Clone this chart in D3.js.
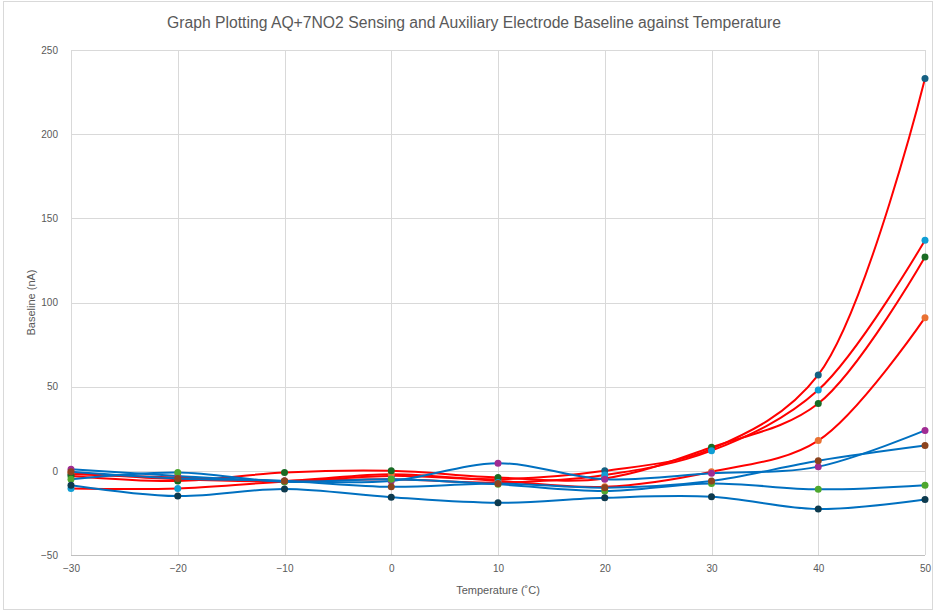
<!DOCTYPE html>
<html>
<head>
<meta charset="UTF-8">
<title>AQ+7NO2 baseline against temperature</title>
<style>
    body { margin: 0; padding: 0; background: #fff; }
    svg { display: block; }
    text { fill: #595959; font-family: "Liberation Sans Narrow", "Arial Narrow", "Liberation Sans", sans-serif; }
</style>
</head>
<body>
<svg width="935" height="613"></svg>
<script src="https://d3js.org/d3.v7.min.js"></script>
<script>
    // temperatures (x) and tick labels
    var temps = [-30, -20, -10, 0, 10, 20, 30, 40, 50];
    var yTicks = [-50, 0, 50, 100, 150, 200, 250];

    // sensing electrode series (red lines)
    var sens1 = [-2, -4, -6, -3, -5, 0, 13, 57, 233];
    var sens2 = [-1, -5, -6, -2, -6, -9.5, -0.5, 18, 91];
    var sens3 = [-3, -6, -1, 0, -4, -4.5, 14, 40, 127];
    var sens4 = [-10.5, -10.5, -6.5, -5, -7, -2.5, 12, 48, 137];

    // auxiliary electrode series (blue lines)
    var aux1 = [1, -3, -6, -6, 4.5, -5, -1.5, 2.5, 24];
    var aux2 = [-5, -1, -6.5, -5, -8, -12, -7.5, -11, -8.5];
    var aux3 = [-8.5, -15, -10.8, -15.7, -19, -16, -15.4, -22.7, -17];
    var aux4 = [-0.5, -4.5, -6, -9.5, -7.5, -10, -6, 6, 15];

    var series = [
        {values: sens1, line: "#ff0000", marker: "#156082"},
        {values: sens2, line: "#ff0000", marker: "#e97132"},
        {values: sens3, line: "#ff0000", marker: "#196b24"},
        {values: sens4, line: "#ff0000", marker: "#0f9ed5"},
        {values: aux1, line: "#0070c0", marker: "#a02b93"},
        {values: aux2, line: "#0070c0", marker: "#4ea72e"},
        {values: aux3, line: "#0070c0", marker: "#0d3a4e"},
        {values: aux4, line: "#0070c0", marker: "#8c441e"}
    ];

    var svg = d3.select("svg"),
        margin = {left: 71, right: 10, top: 50, bottom: 58},
        width = +svg.attr("width") - margin.left - margin.right,
        height = +svg.attr("height") - margin.top - margin.bottom;

    // chart border
    svg.append("rect")
        .attr("x", 3.5).attr("y", 1.5)
        .attr("width", 929).attr("height", 608)
        .attr("fill", "none")
        .attr("stroke", "#d9d9d9");

    var g = svg.append("g").attr("transform", "translate(" + margin.left + "," + margin.top + ")");

    var x = d3.scaleLinear().domain([-30, 50]).range([0, width]);
    var y = d3.scaleLinear().domain([-50, 250]).range([height, 0]);

    // gridlines
    g.append("g").selectAll("line")
        .data(yTicks)
        .enter().append("line")
        .attr("x1", 0).attr("x2", width)
        .attr("y1", function (d) { return Math.round(y(d)) + 0.5; })
        .attr("y2", function (d) { return Math.round(y(d)) + 0.5; })
        .attr("stroke", function (d) { return d == -50 ? "#bfbfbf" : "#d9d9d9"; });

    g.append("g").selectAll("line")
        .data(temps)
        .enter().append("line")
        .attr("y1", 0).attr("y2", height)
        .attr("x1", function (d) { return Math.round(x(d)) + 0.5; })
        .attr("x2", function (d) { return Math.round(x(d)) + 0.5; })
        .attr("stroke", "#d9d9d9");

    // axes (labels only)
    var xAxis = g.append("g")
        .attr("transform", "translate(0," + height + ")")
        .call(d3.axisBottom(x).tickValues(temps).tickSize(0).tickPadding(10));
    var yAxis = g.append("g")
        .call(d3.axisLeft(y).tickValues(yTicks).tickSize(0).tickPadding(13));
    [xAxis, yAxis].forEach(function (a) {
        a.select(".domain").remove();
        a.selectAll("text").style("font-size", "10px").attr("fill", "#595959")
            .style("font-family", "'Liberation Sans Narrow', 'Arial Narrow', sans-serif");
    });

    // lines and markers
    var line = d3.line()
        .x(function (d, i) { return x(temps[i]); })
        .y(function (d) { return y(d); })
        .curve(d3.curveCatmullRom.alpha(0.5));

    series.forEach(function (s) {
        var sg = g.append("g");
        sg.append("path")
            .attr("d", line(s.values))
            .attr("fill", "none")
            .attr("stroke", s.line)
            .attr("stroke-width", 2);
        sg.selectAll("circle")
            .data(s.values)
            .enter().append("circle")
            .attr("cx", function (d, i) { return x(temps[i]); })
            .attr("cy", function (d) { return y(d); })
            .attr("r", 3.5)
            .attr("fill", s.marker);
    });

    // titles
    svg.append("text")
        .attr("x", 474).attr("y", 28)
        .attr("text-anchor", "middle")
        .style("font-size", "16px")
        .attr("textLength", 614)
        .attr("lengthAdjust", "spacingAndGlyphs")
        .text("Graph Plotting AQ+7NO2 Sensing and Auxiliary Electrode Baseline against Temperature");

    svg.append("text")
        .attr("x", margin.left + width / 2).attr("y", 594)
        .attr("text-anchor", "middle")
        .style("font-size", "11px")
        .text("Temperature (˚C)");

    svg.append("text")
        .attr("transform", "translate(35," + (margin.top + height / 2) + ") rotate(-90)")
        .attr("text-anchor", "middle")
        .style("font-size", "11px")
        .text("Baseline (nA)");
</script>
</body>
</html>
